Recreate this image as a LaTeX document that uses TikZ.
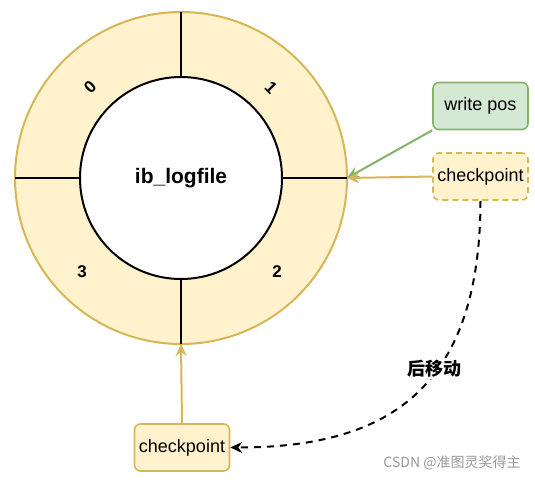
\documentclass[tikz,border=0pt]{standalone}
\usepackage{fontspec}
\setmainfont{Liberation Sans}
\newfontfamily\cjk{Noto Sans CJK SC}
\usetikzlibrary{arrows.meta}

\definecolor{ringfill}{HTML}{FFF2CC}
\definecolor{ringline}{HTML}{D6B656}
\definecolor{posfill}{HTML}{D5E8D4}
\definecolor{posline}{HTML}{82B366}

\tikzset{
    box/.style={draw, rounded corners=6pt, line width=1.6pt, minimum width=95pt,
        minimum height=47pt, inner sep=0pt, font=\fontsize{18}{20}\selectfont},
    segno/.style={font=\bfseries\fontsize{17}{19}\selectfont},
}

\begin{document}
\begin{tikzpicture}[x=1pt,y=-1pt,>={Stealth[length=12pt,width=11pt,inset=4pt]}]
    \useasboundingbox (0,0) rectangle (535,480);
    \begin{scope}[line width=2pt]
        \node [circle, draw=ringline, fill=ringfill, minimum size=332pt, inner sep=0pt, outer sep=0pt] (ring) at (181,178) {};
        \node [circle, draw=black, fill=white, minimum size=202pt, inner sep=0pt, outer sep=0pt,
               font=\bfseries\fontsize{21}{23}\selectfont] (logfile) at (181,178) {ib\_logfile};

        \draw (ring.north) -- (logfile.north);
        \draw (ring.south) -- (logfile.south);
        \draw (ring.west)  -- (logfile.west);
        \draw (ring.east)  -- (logfile.east);
    \end{scope}

    \node [segno, rotate=45]  (seg0) at (90,87)   {0};
    \node [segno, rotate=-45] (seg1) at (271,88)  {1};
    \node [segno]             (seg2) at (277,272) {2};
    \node [segno]             (seg3) at (82,272)  {3};

    \node [box, draw=posline, fill=posfill] (wpos) at (480.5,106) {write pos};
    \node [box, draw=ringline, fill=ringfill, dash pattern=on 6pt off 4pt] (cpnew) at (480.5,176.5) {checkpoint};
    \node [box, draw=ringline, fill=ringfill] (cpold) at (182,447.5) {checkpoint};

    \draw [->, posline, line width=2pt] (wpos.south west) -- (ring.east);
    \draw [->, ringline, line width=2pt] (cpnew.west) -- (ring.east);
    \draw [->, ringline, line width=2pt] (cpold.north) -- (ring.south);

    % move the checkpoint forward
    \draw [->, line width=2pt, dash pattern=on 7pt off 6pt]
        (cpnew.south) .. controls (480,392) and (385,447.5) .. (cpold.east);
    \node [fill=white, inner sep=1pt, font=\cjk\bfseries\fontsize{18}{20}\selectfont] (move) at (434,369) {后移动};

    \node [text=black!40, font=\cjk\fontsize{14}{16}\selectfont] (mark) at (452,463) {CSDN @准图灵奖得主};
\end{tikzpicture}
\end{document}
